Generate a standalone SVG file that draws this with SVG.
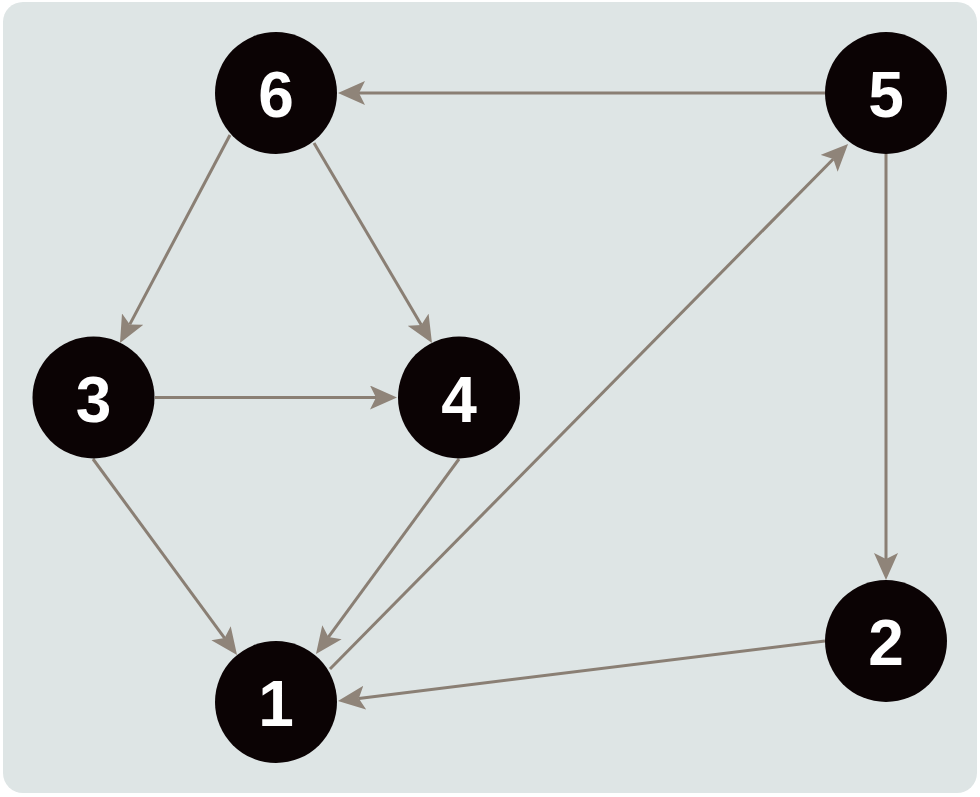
<svg xmlns="http://www.w3.org/2000/svg" width="980" height="797" viewBox="0 0 980 797">
<style>
.edge{stroke:#8a7f74;stroke-width:3;fill:none;marker-end:url(#arr)}
.node circle{fill:#0b0304}
.node text{fill:#ffffff;font-family:"Liberation Sans",Arial,sans-serif;font-weight:bold;font-size:64px;text-anchor:middle}
</style>
<defs>
<marker id="arr" markerUnits="userSpaceOnUse" viewBox="0 0 27 24" markerWidth="27" markerHeight="24" refX="6" refY="12" orient="auto">
<path d="M27,12 L0,0 L6,12 L0,24 Z" fill="#8f8479"/>
</marker>
</defs>
<rect x="0" y="0" width="980" height="797" fill="#ffffff"/>
<rect x="3" y="2" width="974" height="791" rx="20" fill="#dee5e5"/>
<g id="connectors">
<line class="edge" x1="825" y1="93" x2="359" y2="93"/>
<line class="edge" x1="230" y1="135" x2="129.8" y2="324.4"/>
<line class="edge" x1="314" y1="143" x2="421.3" y2="324.9"/>
<line class="edge" x1="155" y1="397.5" x2="376" y2="397.5"/>
<line class="edge" x1="93" y1="459" x2="224.6" y2="638.1"/>
<line class="edge" x1="459" y1="459" x2="328.4" y2="637.1"/>
<line class="edge" x1="330" y1="669" x2="833.3" y2="159"/>
<line class="edge" x1="886" y1="154" x2="886" y2="559"/>
<line class="edge" x1="825" y1="641" x2="358.8" y2="698.4"/>
</g>
<g id="node6" class="node"><circle cx="276" cy="93" r="61"/><text x="276" y="117">6</text></g>
<g id="node5" class="node"><circle cx="886" cy="93" r="61"/><text x="886" y="117">5</text></g>
<g id="node3" class="node"><circle cx="93.5" cy="397.5" r="61"/><text x="93.5" y="421.5">3</text></g>
<g id="node4" class="node"><circle cx="459" cy="397.5" r="61"/><text x="459" y="421.5">4</text></g>
<g id="node1" class="node"><circle cx="276" cy="702" r="61"/><text x="276" y="726">1</text></g>
<g id="node2" class="node"><circle cx="886" cy="641" r="61"/><text x="886" y="665">2</text></g>
</svg>
